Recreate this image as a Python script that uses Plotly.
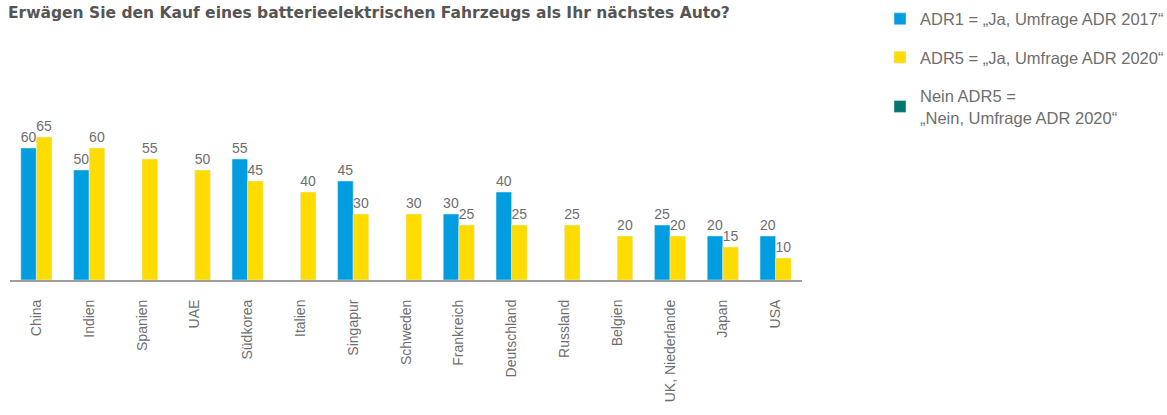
import plotly.graph_objects as go

# Survey: "Would you consider a battery-electric vehicle as your next car?"
countries = ["China", "Indien", "Spanien", "UAE", "Südkorea", "Italien", "Singapur",
             "Schweden", "Frankreich", "Deutschland", "Russland", "Belgien",
             "UK, Niederlande", "Japan", "USA"]
adr1_2017 = [60, 50, None, None, 55, None, 45, None, 30, 40, None, None, 25, 20, 20]
adr5_2020 = [65, 60, 55, 50, 45, 40, 30, 30, 25, 25, 25, 20, 20, 15, 10]

title_text = "Erwägen Sie den Kauf eines batterieelektrischen Fahrzeugs als Ihr nächstes Auto?"
name_adr1 = "ADR1 = „Ja, Umfrage ADR 2017“"
name_adr5 = "ADR5 = „Ja, Umfrage ADR 2020“"
name_nein = "Nein ADR5 =<br>„Nein, Umfrage ADR 2020“"

BLUE = "#009EE0"
YELLOW = "#FFDC00"
TEAL = "#00766D"
GREY_TXT = "#6E6E6E"

def labels(vals):
    return [("" if v is None else str(v)) for v in vals]

fig = go.Figure()
fig.add_trace(go.Bar(
    x=countries, y=adr1_2017, name=name_adr1, marker_color=BLUE,
    text=labels(adr1_2017), textposition="outside", cliponaxis=False,
    constraintext="none", offsetgroup="a",
    textfont=dict(size=14, color=GREY_TXT), legendgroup="a"))
fig.add_trace(go.Bar(
    x=countries, y=adr5_2020, name=name_adr5, marker_color=YELLOW,
    text=labels(adr5_2020), textposition="outside", cliponaxis=False,
    constraintext="none", offsetgroup="b",
    textfont=dict(size=14, color=GREY_TXT), legendgroup="b"))
# legend-only entry for the "Nein" series (shares a slot so it takes no space)
fig.add_trace(go.Bar(
    x=[countries[0]], y=[None], name=name_nein, marker_color=TEAL,
    offsetgroup="b", legendgroup="c", showlegend=True, hoverinfo="skip"))

fig.update_layout(
    width=1167, height=415,
    margin=dict(l=10, r=10, t=126, b=135, autoexpand=False),
    paper_bgcolor="white", plot_bgcolor="white",
    font=dict(family="Arial, Liberation Sans, sans-serif", color=GREY_TXT),
    barmode="group", bargap=0.41, bargroupgap=0,
    title=dict(text="<b>" + title_text + "</b>", xref="container", yref="container",
               x=8 / 1167, xanchor="left", y=1 - 13 / 415, yanchor="middle",
               font=dict(size=15.5, family="DejaVu Sans, sans-serif", color="#555555")),
    legend=dict(x=0.7585, xanchor="left", y=1.808, yanchor="top",
                font=dict(size=16.5, color=GREY_TXT), tracegroupgap=14,
                traceorder="grouped", bgcolor="rgba(0,0,0,0)"),
    showlegend=True,
)
fig.update_xaxes(domain=[0, 792 / 1147], showline=True, linecolor="#9E9E9E", linewidth=2,
                 showgrid=False, ticks="", tickangle=-90, ticklabelstandoff=12,
                 tickfont=dict(size=14, color=GREY_TXT), fixedrange=True)
fig.update_yaxes(range=[0, 70], visible=False, showgrid=False, fixedrange=True)

fig.write_html("out.html")
